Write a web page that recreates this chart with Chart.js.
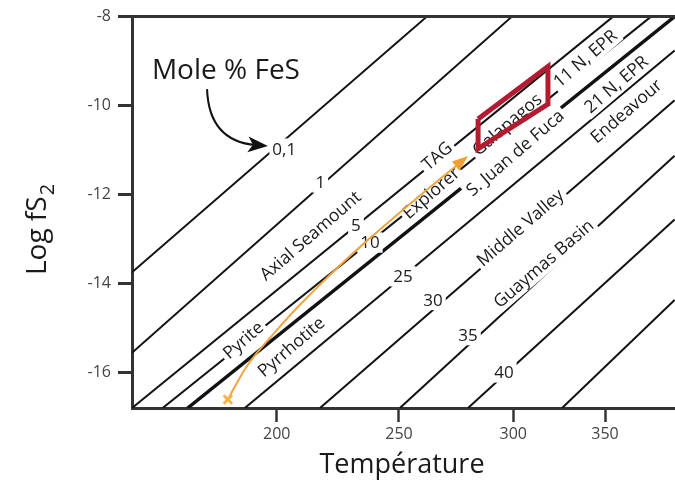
<!DOCTYPE html>
<html>
<head>
<meta charset="utf-8">
<script src="https://cdn.jsdelivr.net/npm/chart.js@4.4.1/dist/chart.umd.min.js"></script>
<style>
  html, body { margin: 0; padding: 0; background: #fff; overflow: hidden; }
  canvas { display: block; }
</style>
</head>
<body>
<canvas id="chart" width="675" height="482"></canvas>
<script>
// FeS isopleths (mole %), each one a straight segment between two ends
const isoNames = ['0,1', '1', '5', '10', '25', '30', '35', '40', ''];
const isoStartT = [141, 141, 141, 153.5, 187.0, 217.7, 250.4, 280.2, 326.6];
const isoStartS = [-13.75, -15.56, -16.8, -16.8, -16.8, -16.8, -16.8, -16.8, -16.8];
const isoEndT = [262.2, 299.4, 354.4, 375.1, 388, 388, 388, 388, 388];
const isoEndS = [-8, -8, -8, -8, -8.76, -9.88, -11.13, -12.56, -14.37];
const isoLabelT = [203.1, 217.8, 232.4, 238.1, 251.7, 264.9, 280.2, 295.9];
const isoLabelS = [-10.97, -11.73, -12.70, -13.08, -13.84, -14.37, -15.16, -16.0];

// pyrite / pyrrhotite boundary
const boundaryT = [163.7, 388];
const boundaryS = [-16.8, -8.0];

// vent sites written along the isopleths
const siteNames = ['Axial Seamount', 'TAG', 'Explorer', 'Galapagos', 'S. Juan de Fuca',
  '11 N, EPR', '21 N, EPR', 'Endeavour', 'Middle Valley', 'Guaymas Basin', 'Pyrite', 'Pyrrhotite'];
const siteT = [213.7, 266.6, 264.0, 297.2, 300.9, 339.1, 356.0, 361.5, 303.7, 316.4, 186.3, 205.9];
const siteS = [-12.92, -11.13, -11.96, -10.42, -11.06, -8.94, -9.52, -10.12, -12.74, -13.55, -15.27, -15.42];

// cooling path (orange) and the red field
const pathT = [180.1, 183.4, 189.1, 197.3, 209.5, 225.9, 239.4, 259.2, 277.5];
const pathS = [-16.61, -16.27, -15.76, -15.22, -14.48, -13.59, -12.92, -12.02, -11.25];
const boxT = [284.6, 318.9, 318.9, 284.6, 284.6];
const boxS = [-10.30, -9.12, -9.97, -10.97, -10.30];

// "Mole % FeS" note and its arrow
const noteT = 179.3, noteS = -9.23;
const arrowT = [171.6, 172.4, 196.4];
const arrowS = [-9.63, -10.8, -10.91];

const xTicks = [200, 250, 300, 350];
const yTicks = [-16, -14, -12, -10, -8];

const FONT = "'Open Sans', sans-serif";

// temperature axis is not evenly spaced in the figure
const warpT = [141, 200, 250, 300, 350, 388.2];
const warpF = [0, 0.2665, 0.4917, 0.7022, 0.8711, 1];
function warp(v) {
  let i = 0;
  while (i < warpT.length - 2 && v > warpT[i + 1]) i++;
  return warpF[i] + (v - warpT[i]) / (warpT[i + 1] - warpT[i]) * (warpF[i + 1] - warpF[i]);
}
function unwarp(f) {
  let i = 0;
  while (i < warpF.length - 2 && f > warpF[i + 1]) i++;
  return warpT[i] + (f - warpF[i]) / (warpF[i + 1] - warpF[i]) * (warpT[i + 1] - warpT[i]);
}
class WarpScale extends Chart.LinearScale {
  getPixelForValue(value) { return this.getPixelForDecimal(warp(value)); }
  getValueForPixel(pixel) { return unwarp(this.getDecimalForPixel(pixel)); }
}
WarpScale.id = 'warp';
WarpScale.defaults = Chart.LinearScale.defaults;
Chart.register(WarpScale);

function pts(ts, ss) { return ts.map((t, i) => ({ x: t, y: ss[i] })); }

function tag(ctx, text, px, py, angle, size) {
  ctx.save();
  ctx.translate(px, py);
  ctx.rotate(angle);
  ctx.font = size + 'px ' + FONT;
  const w = ctx.measureText(text).width;
  ctx.fillStyle = '#fff';
  ctx.fillRect(-w / 2 - 3, -size * 0.6, w + 6, size * 1.2);
  ctx.fillStyle = '#1a1a1a';
  ctx.textAlign = 'center';
  ctx.textBaseline = 'middle';
  ctx.fillText(text, 0, 1);
  ctx.restore();
}

const decor = {
  id: 'decor',
  afterDatasetDraw(chart, args) {
    const ds = chart.data.datasets[args.index];
    const { ctx, scales: { x, y } } = chart;
    if (ds.id === 'boundary') {
      isoLabelT.forEach((t, i) => tag(ctx, isoNames[i], x.getPixelForValue(t), y.getPixelForValue(isoLabelS[i]), 0, 17));
      siteNames.forEach((n, i) => tag(ctx, n, x.getPixelForValue(siteT[i]), y.getPixelForValue(siteS[i]), -0.71, 17.5));
    }
    if (ds.id === 'path') {
      const n = pathT.length;
      const x1 = x.getPixelForValue(pathT[n - 1]), y1 = y.getPixelForValue(pathS[n - 1]);
      const x0 = x.getPixelForValue(pathT[n - 2]), y0 = y.getPixelForValue(pathS[n - 2]);
      const a = Math.atan2(y1 - y0, x1 - x0);
      ctx.save();
      ctx.translate(x1, y1);
      ctx.rotate(a);
      ctx.fillStyle = '#f0a030';
      ctx.beginPath();
      ctx.moveTo(8, 0); ctx.lineTo(-8, -6); ctx.lineTo(-8, 6); ctx.closePath();
      ctx.fill();
      ctx.restore();
    }
  },
  afterDraw(chart) {
    const { ctx, chartArea: a, scales: { x, y } } = chart;
    ctx.save();
    // top frame
    ctx.strokeStyle = '#333';
    ctx.lineWidth = 3;
    ctx.beginPath();
    ctx.moveTo(a.left - 1.5, a.top);
    ctx.lineTo(a.right, a.top);
    ctx.stroke();

    // note + arrow
    ctx.fillStyle = '#1a1a1a';
    ctx.font = '28px ' + FONT;
    ctx.textAlign = 'center';
    ctx.textBaseline = 'middle';
    ctx.fillText('Mole % FeS', x.getPixelForValue(noteT), y.getPixelForValue(noteS));
    const ax = arrowT.map(t => x.getPixelForValue(t));
    const ay = arrowS.map(s => y.getPixelForValue(s));
    ctx.strokeStyle = '#111';
    ctx.lineWidth = 2;
    ctx.beginPath();
    ctx.moveTo(ax[0], ay[0]);
    ctx.quadraticCurveTo(ax[1], ay[1], ax[2] - 12, ay[2] - 1);
    ctx.stroke();
    ctx.translate(ax[2], ay[2]);
    ctx.rotate(Math.atan2(ay[2] - ay[1], ax[2] - ax[1]));
    ctx.fillStyle = '#111';
    ctx.beginPath();
    ctx.moveTo(0, 0); ctx.lineTo(-20, -8); ctx.lineTo(-15, 0); ctx.lineTo(-20, 8); ctx.closePath();
    ctx.fill();
    ctx.restore();

    // axis titles
    ctx.save();
    ctx.fillStyle = '#1a1a1a';
    ctx.textBaseline = 'middle';
    ctx.textAlign = 'center';
    ctx.font = '27px ' + FONT;
    ctx.fillText('Température', 402, 465);
    ctx.translate(38, 230);
    ctx.rotate(-Math.PI / 2);
    ctx.textAlign = 'left';
    ctx.font = '28px ' + FONT;
    const w1 = ctx.measureText('Log fS').width;
    ctx.font = '20px ' + FONT;
    const w2 = ctx.measureText('2').width;
    const x0 = -(w1 + w2) / 2;
    ctx.font = '28px ' + FONT;
    ctx.fillText('Log fS', x0, 0);
    ctx.font = '20px ' + FONT;
    ctx.fillText('2', x0 + w1 + 1, 10);
    ctx.restore();
  }
};

const datasets = [
  { id: 'box', data: pts(boxT, boxS), borderColor: '#b31b30', borderWidth: 5, pointRadius: 0, borderJoinStyle: 'miter' },
  { id: 'path', data: pts(pathT, pathS), borderColor: '#f0a640', borderWidth: 2, tension: 0.4,
    pointRadius: c => c.dataIndex === 0 ? 6 : 0, pointStyle: 'crossRot',
    pointBorderColor: '#f5b547', pointBorderWidth: 3 },
  { id: 'boundary', data: pts(boundaryT, boundaryS), borderColor: '#111', borderWidth: 3.5, pointRadius: 0 }
].concat(isoNames.map((n, i) => ({
  id: 'iso', label: n,
  data: [{ x: isoStartT[i], y: isoStartS[i] }, { x: isoEndT[i], y: isoEndS[i] }],
  borderColor: '#111', borderWidth: 2, pointRadius: 0
})));

new Chart(document.getElementById('chart'), {
  type: 'line',
  data: { datasets },
  options: {
    responsive: false,
    devicePixelRatio: 1,
    animation: false,
    events: [],
    layout: { autoPadding: false, padding: { top: 15, right: 0, left: 0, bottom: 0 } },
    plugins: { legend: { display: false }, tooltip: { enabled: false } },
    scales: {
      x: {
        type: 'warp', min: 141, max: 388.2,
        afterBuildTicks: s => { s.ticks = xTicks.map(v => ({ value: v })); },
        afterFit: s => { s.height = 74; s.paddingLeft = 0; s.paddingRight = 0; },
        ticks: { font: { family: FONT, size: 16 }, color: '#444', padding: 3, maxRotation: 0 },
        grid: { drawOnChartArea: false, tickLength: 14, tickWidth: 2.5, tickColor: '#333' },
        border: { color: '#333', width: 3 }
      },
      y: {
        type: 'linear', min: -16.8, max: -8,
        afterBuildTicks: s => { s.ticks = yTicks.map(v => ({ value: v })); },
        afterFit: s => { s.width = 132; },
        ticks: { font: { family: FONT, size: 16 }, color: '#444', padding: 7 },
        grid: { drawOnChartArea: false, tickLength: 14, tickWidth: 3, tickColor: '#333' },
        border: { color: '#333', width: 3 }
      }
    }
  },
  plugins: [decor]
});
</script>
</body>
</html>
